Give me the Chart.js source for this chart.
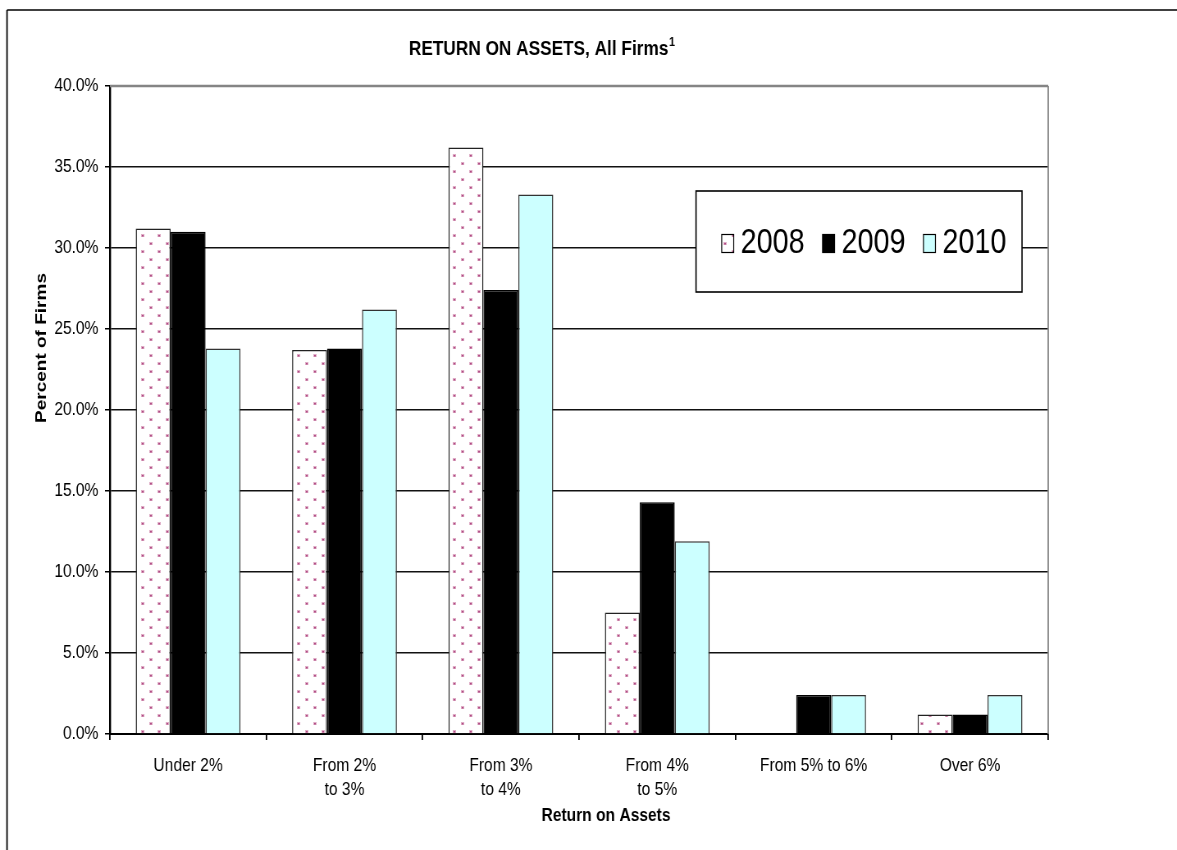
<!DOCTYPE html>
<html>
<head>
<meta charset="utf-8">
<script src="https://cdn.jsdelivr.net/npm/chart.js@4.4.0/dist/chart.umd.min.js"></script>
<style>
html,body{margin:0;padding:0;background:#fff;overflow:hidden;width:1177px;height:850px}
#wrap{position:absolute;left:0;top:0;transform-origin:0 0;transform:scaleX(0.8202)}
canvas{display:block}
</style>
</head>
<body>
<div id="wrap"><canvas id="c" width="1435" height="850"></canvas></div>
<script>
// ---- data ----
const categories = [['Under 2%'], ['From 2%', 'to 3%'], ['From 3%', 'to 4%'], ['From 4%', 'to 5%'], ['From 5% to 6%'], ['Over 6%']];
const seriesNames = ['2008', '2009', '2010'];
const values2008 = [31.2, 23.7, 36.2, 7.5, null, 1.2];
const values2009 = [31.0, 23.8, 27.4, 14.3, 2.4, 1.2];
const values2010 = [23.8, 26.2, 33.3, 11.9, 2.4, 2.4];
const yMin = 0, yMax = 40, yStep = 5;
const chartTitle = 'RETURN ON ASSETS, All Firms';
const titleNote = '1';
const xTitle = 'Return on Assets';
const yTitle = 'Percent of Firms';

// the whole canvas is drawn wide and squeezed horizontally (narrow, Excel-like look)
const K = 0.8202;
const X = (v) => v / K;
const FONT = "'Liberation Sans',Arial,sans-serif";

const canvas = document.getElementById('c');
const ctx = canvas.getContext('2d');

function makeDots() {
  const c = document.createElement('canvas');
  c.width = 20; c.height = 16;
  const g = c.getContext('2d');
  g.fillStyle = '#ffffff'; g.fillRect(0, 0, 20, 16);
  g.fillStyle = 'rgba(190,90,140,0.5)';
  g.fillRect(2, 2, 4, 3); g.fillRect(12, 10, 4, 3);
  g.fillStyle = '#b04a84';
  g.fillRect(3, 3, 2, 1.5); g.fillRect(13, 11, 2, 1.5);
  return ctx.createPattern(c, 'repeat');
}
const dots = makeDots();
const fills = [dots, '#000000', '#CCFFFF'];
const borders = ['#222222', '#000000', '#333333'];

const deco = {
  id: 'deco',
  beforeDraw(chart) {
    const g = chart.ctx;
    g.save();
    g.strokeStyle = '#000';
    g.lineWidth = 1.5;
    g.beginPath(); g.moveTo(X(7), 10); g.lineTo(2000, 10); g.stroke();
    g.lineWidth = 1.8;
    g.beginPath(); g.moveTo(X(7), 10); g.lineTo(X(7), 900); g.stroke();
    g.restore();
  },
  afterDraw(chart) {
    const g = chart.ctx;
    const a = chart.chartArea;
    g.save();
    // plot area border (top & right, gray)
    g.strokeStyle = '#858585'; g.lineWidth = 2.5;
    g.beginPath(); g.moveTo(a.left, a.top); g.lineTo(a.right, a.top); g.stroke();
    g.lineWidth = 1.8;
    g.beginPath(); g.moveTo(a.right, a.top); g.lineTo(a.right, a.bottom); g.stroke();

    // title
    g.fillStyle = '#000';
    g.textBaseline = 'alphabetic';
    g.font = "bold 21px " + FONT;
    const tw = g.measureText(chartTitle).width;
    g.font = "bold 13px " + FONT;
    const nw = g.measureText(titleNote).width;
    const tx = X(542) - (tw + nw + 1) / 2;
    g.textAlign = 'left';
    g.font = "bold 21px " + FONT;
    g.fillText(chartTitle, tx, 55);
    g.font = "bold 13px " + FONT;
    g.fillText(titleNote, tx + tw + 1, 46);

    // x title
    g.font = "bold 19px " + FONT;
    g.textAlign = 'center';
    g.fillText(xTitle, X(606), 821);

    // y title
    g.save();
    g.translate(X(42), 348);
    g.rotate(-Math.PI / 2);
    g.font = "bold 19px " + FONT;
    g.textAlign = 'center';
    g.textBaseline = 'middle';
    g.fillText(yTitle, 0, 0);
    g.restore();

    // legend box
    const bx = X(696), by = 191, bw = X(326), bh = 101;
    g.fillStyle = '#fff';
    g.fillRect(bx, by, bw, bh);
    g.strokeStyle = '#000'; g.lineWidth = 1.6;
    g.strokeRect(bx, by, bw, bh);
    g.font = "35px " + FONT;
    g.textAlign = 'left';
    g.textBaseline = 'alphabetic';
    const symW = X(12), symH = 18, gap = X(7), spacing = X(18);
    const widths = chart.data.datasets.map(ds => g.measureText(ds.label).width);
    let total = 0;
    widths.forEach((w, i) => { total += symW + gap + w + (i < widths.length - 1 ? spacing : 0); });
    let x = bx + bw / 2 + X(5) - total / 2;
    const cy = by + bh / 2 - 1;
    chart.data.datasets.forEach((ds, i) => {
      g.fillStyle = ds.backgroundColor;
      g.fillRect(x, cy - symH / 2 + 3, symW, symH);
      g.strokeStyle = '#000'; g.lineWidth = 1.2;
      g.strokeRect(x, cy - symH / 2 + 3, symW, symH);
      g.fillStyle = '#000';
      g.fillText(ds.label, x + symW + gap, cy + 12.5);
      x += symW + gap + widths[i] + spacing;
    });
    g.restore();
  }
};

new Chart(ctx, {
  type: 'bar',
  data: {
    labels: categories,
    datasets: [values2008, values2009, values2010].map((v, i) => ({
      label: seriesNames[i],
      data: v,
      backgroundColor: fills[i],
      borderColor: borders[i],
      borderWidth: 1.5,
      borderSkipped: 'start',
      categoryPercentage: 0.67,
      barPercentage: 1.0
    }))
  },
  options: {
    responsive: false,
    maintainAspectRatio: false,
    animation: false,
    devicePixelRatio: 1,
    layout: { padding: { top: 86, right: 1435 - Math.round(X(1048)), left: 0, bottom: 0 } },
    plugins: {
      legend: { display: false },
      title: { display: false },
      tooltip: { enabled: false }
    },
    scales: {
      x: {
        afterFit(s) { s.height = 116; },
        border: { color: '#000', width: 2 },
        grid: { display: true, drawOnChartArea: false, drawTicks: true, tickLength: 6, offset: true, color: '#000', lineWidth: 1.8 },
        ticks: {
          color: '#000', maxRotation: 0, minRotation: 0, autoSkip: false, padding: 13,
          font: { family: FONT, size: 19, lineHeight: 1.3 }
        }
      },
      y: {
        min: yMin, max: yMax,
        afterFit(s) { s.width = Math.round(X(110)); },
        border: { color: '#000', width: 2.4 },
        grid: {
          color: (c) => (c.tick && c.tick.value === yMax) ? 'rgba(0,0,0,0)' : '#111',
          tickColor: '#000',
          lineWidth: 1.5, tickLength: 6
        },
        ticks: {
          stepSize: yStep, color: '#000', padding: 8,
          font: { family: FONT, size: 19 },
          callback: (v) => v.toFixed(1) + '%'
        }
      }
    }
  },
  plugins: [deco]
});
</script>
</body>
</html>
